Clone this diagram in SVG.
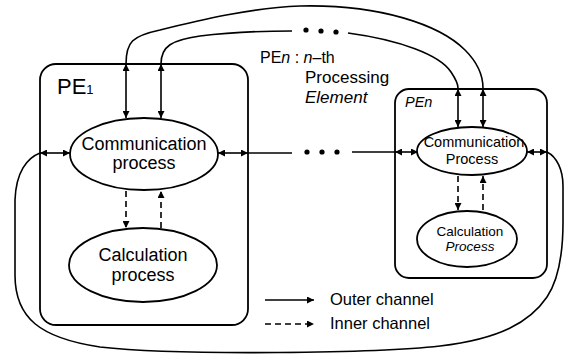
<svg xmlns="http://www.w3.org/2000/svg" width="570" height="354" viewBox="0 0 570 354">
<defs>
<marker id="ah" viewBox="0 0 10 10" refX="10" refY="5" markerWidth="8" markerHeight="7" markerUnits="userSpaceOnUse" orient="auto-start-reverse">
<path d="M0,0 L10,5 L0,10 Z" fill="#000"/>
</marker>
<style>
.box{fill:none;stroke:#000;stroke-width:1.8}
.ell{fill:#fff;stroke:#000;stroke-width:1.8}
.ln{fill:none;stroke:#000;stroke-width:1.6}
.dbl{fill:none;stroke:#000;stroke-width:1.6;marker-start:url(#ah);marker-end:url(#ah)}
.one{fill:none;stroke:#000;stroke-width:1.6;marker-end:url(#ah)}
.dash{fill:none;stroke:#000;stroke-width:1.6;stroke-dasharray:6,4;marker-end:url(#ah)}
text{font-family:"Liberation Sans",Arial,sans-serif;fill:#000}
.c{text-anchor:middle}
</style>
</defs>
<rect width="570" height="354" fill="#fff"/>

<g id="connectors">
<path class="ln" d="M126,64 C126,42 132,36 160,30 C200,20 250,8 300,6 C380,4 440,25 465,50 C478,63 483,75 483,88"/>
<path class="ln" d="M161,64 C161,46 172,40 200,36 C240,31 270,31 292,31"/>
<circle cx="306" cy="30" r="2.6"/><circle cx="321" cy="31" r="2.6"/><circle cx="336" cy="32" r="2.6"/>
<path class="ln" d="M348,33 C400,40 440,55 451,72 C455,78 458,83 458,88"/>
<path class="ln" d="M248,153 L292,153"/>
<circle cx="307" cy="152" r="2.6"/><circle cx="322" cy="152" r="2.6"/><circle cx="337" cy="152" r="2.6"/>
<path class="ln" d="M352,152 L395,152"/>
<path class="ln" d="M40,153 C27,158 16,172 15,200 L15,275 C15,318 40,338 100,347 C180,356 380,353 440,346 C500,339 530,322 547,297 C559,279 563,252 563,222 L563,186 C563,170 557,157 547,152"/>
<path class="dbl" d="M126,64 L126,118"/>
<path class="dbl" d="M161,64 L161,118"/>
<path class="dbl" d="M40,153 L70,153"/>
<path class="dbl" d="M218,153 L248,153"/>
<path class="dash" d="M126,191 L126,228"/>
<path class="dash" d="M161,228 L161,191"/>
<path class="dbl" d="M458,89 L458,127"/>
<path class="dbl" d="M483,89 L483,127"/>
<path class="dbl" d="M395,152 L418,152"/>
<path class="dbl" d="M527,152 L547,152"/>
<path class="dash" d="M458,176 L458,210"/>
<path class="dash" d="M483,210 L483,176"/>
</g>

<g id="pe1">
<rect class="box" x="40" y="64" width="208" height="261" rx="16"/>
<text x="57" y="94" font-size="22">PE<tspan font-size="13">1</tspan></text>
</g>
<g id="pe1-comm">
<ellipse class="ell" cx="144" cy="154" rx="74" ry="36"/>
<text class="c" x="144" y="150" font-size="18">Communication</text>
<text class="c" x="144" y="169" font-size="18">process</text>
</g>
<g id="pe1-calc">
<ellipse class="ell" cx="143" cy="265" rx="74" ry="37"/>
<text class="c" x="143" y="261" font-size="18">Calculation</text>
<text class="c" x="143" y="281" font-size="18">process</text>
</g>

<g id="pen">
<rect class="box" x="395" y="89" width="152" height="189" rx="14"/>
<text x="405" y="107" font-size="14.5" font-style="italic">PE<tspan>n</tspan></text>
</g>
<g id="pen-comm">
<ellipse class="ell" cx="472" cy="151" rx="55" ry="24"/>
<text class="c" x="474" y="147" font-size="14.5">Communication</text>
<text class="c" x="472" y="164" font-size="14.5">Process</text>
</g>
<g id="pen-calc">
<ellipse class="ell" cx="467" cy="239" rx="50" ry="28"/>
<text class="c" x="470" y="236" font-size="13.5">Calculation</text>
<text class="c" x="470" y="251" font-size="13.5" font-style="italic">Process</text>
</g>

<g id="note">
<text x="260" y="63" font-size="16">PE<tspan font-style="italic">n</tspan> : <tspan font-style="italic">n</tspan>–th</text>
<text x="305" y="83" font-size="17">Processing</text>
<text x="305" y="103" font-size="17" font-style="italic">Element</text>
</g>

<g id="legend">
<path class="one" d="M265,300 L314,300"/>
<text x="330" y="305" font-size="16.5">Outer channel</text>
<path class="dash" d="M265,324 L314,324"/>
<text x="330" y="329" font-size="16.5">Inner channel</text>
</g>
</svg>
